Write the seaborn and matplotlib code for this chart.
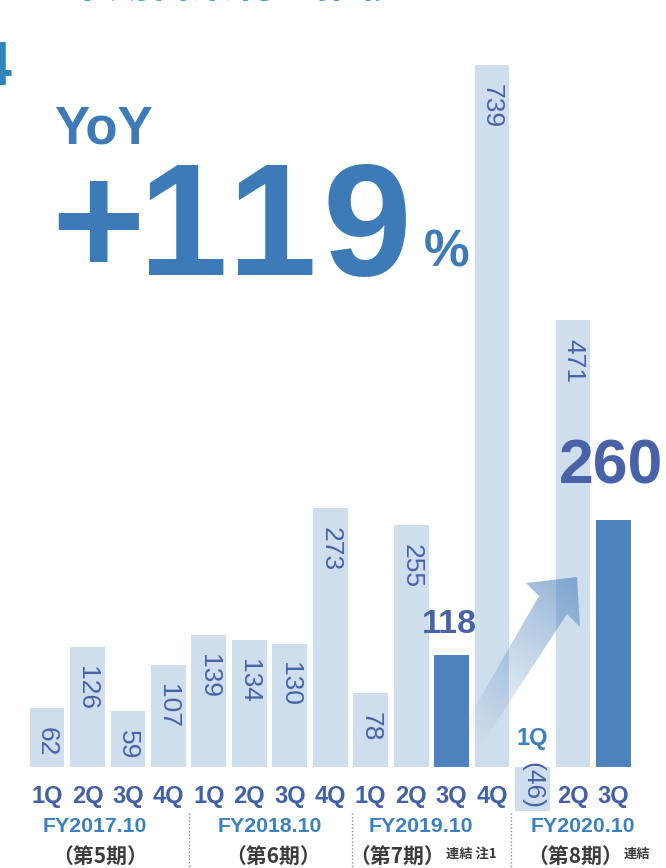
import numpy as np
import pandas as pd
import matplotlib
matplotlib.use("Agg")
import matplotlib.pyplot as plt
import seaborn as sns
from matplotlib.patches import Polygon
from matplotlib.transforms import blended_transform_factory

# ---------------- data ----------------
quarters = ["1Q", "2Q", "3Q", "4Q", "1Q", "2Q", "3Q", "4Q",
            "1Q", "2Q", "3Q", "4Q", "1Q", "2Q", "3Q"]
values = [62, 126, 59, 107, 139, 134, 130, 273, 78, 255, 118, 739, -46, 471, 260]
highlight = [False] * 10 + [True] + [False] * 3 + [True]
fiscal_years = ["FY2017.10", "FY2018.10", "FY2019.10", "FY2020.10"]
periods = ["（第5期）", "（第6期）", "（第7期）", "（第8期）"]
notes = ["", "", "連結 注1", "連結"]
yoy_label = "YoY"
yoy_value = "+119"
yoy_unit = "%"

# ---------------- style ----------------
W, H = 666, 868
LIGHT = "#cfdeec"
DARK = "#4d83bd"
NUM_C = "#4862aa"
TICK_C = "#4060a8"
FY_C = "#3a80c2"
BIG_C = "#3d7ab8"
LATIN = ["Liberation Sans", "DejaVu Sans"]
CJK = ["Noto Sans CJK JP", "DejaVu Sans"]

sns.set_theme(style="white")
plt.rcParams["font.family"] = LATIN

df = pd.DataFrame({
    "idx": list(range(len(values))),
    "value": values,
    "kind": ["hi" if h else "lo" for h in highlight],
})

fig = plt.figure(figsize=(W / 100, H / 100), dpi=100)
ax = fig.add_axes([0, 0, 1, 1])
sns.barplot(data=df, x="idx", y="value", hue="kind", hue_order=["lo", "hi"],
            palette={"lo": LIGHT, "hi": DARK}, dodge=False, width=0.86,
            saturation=1, linewidth=0, legend=False, ax=ax, zorder=2)

# map axes to pixel layout: bar pitch 40.46 px, first bar centre at 47 px,
# baseline at 767 px from top, 0.95 px per unit
pitch, x0, base_py, ppu = 40.46, 47.0, 767.0, 0.95
xmin = -x0 / pitch
xmax = xmin + W / pitch
ymin = -(H - base_py) / ppu
ymax = base_py / ppu
ax.set_xlim(xmin, xmax)
ax.set_ylim(ymin, ymax)
ax.axis("off")


def fy(py):
    return 1 - py / H


def fx(px):
    return px / W


def dx(px):
    return xmin + px / W * (xmax - xmin)


def dy(py):
    return ymax - py / H * (ymax - ymin)


xt = blended_transform_factory(ax.transData, fig.transFigure)

# ---------------- value labels ----------------
for i, (v, h) in enumerate(zip(values, highlight)):
    if h:
        ax.annotate(str(v), (i, v), xytext=(-2, 22 if v < 200 else 37),
                    textcoords="offset pixels", ha="center", va="baseline",
                    fontsize=24.5 if v < 200 else 45, fontweight="bold",
                    color=NUM_C, zorder=6)
    elif v >= 0:
        ax.annotate(str(v), (i, v), xytext=(0, -19), textcoords="offset pixels",
                    ha="center", va="top", rotation=-90, fontsize=19,
                    color=NUM_C, zorder=6)
    else:
        ax.annotate(f"({abs(v)})", (i, 0), xytext=(0, 5), textcoords="offset pixels",
                    ha="center", va="top", rotation=-90, fontsize=19,
                    color=NUM_C, zorder=6)

# ---------------- category labels ----------------
for i, (q, v) in enumerate(zip(quarters, values)):
    if v < 0:
        ax.text(i, dy(738), q, ha="center", va="center", fontsize=17,
                fontweight="bold", color=FY_C, zorder=6)
    else:
        ax.text(i, fy(797), q, transform=xt, ha="center", va="center",
                fontsize=17, fontweight="bold", color=TICK_C, zorder=6)

fy_px = [95, 270, 421, 583]
per_px = [100, 273, 397, 575]
note_px = [0, 0, 471, 637]
for k in range(4):
    fig.text(fx(fy_px[k]), fy(827), fiscal_years[k], ha="center", va="center",
             fontsize=15.3, fontweight="bold", color=FY_C)
    fig.text(fx(per_px[k]), fy(857), periods[k], ha="center", va="center",
             fontsize=15, fontweight="bold", color="#3c3c3c", family=CJK)
    if notes[k]:
        fig.text(fx(note_px[k]), fy(854), notes[k], ha="center", va="center",
                 fontsize=9.5, fontweight="bold", color="#3c3c3c", family=CJK)

for sx in [3.5, 7.55, 11.47]:
    ax.plot([sx, sx], [dy(813), dy(868)], color="#8a8a8a", lw=1,
            ls=(0, (1, 1.5)), zorder=3)

# ---------------- headline ----------------
fig.text(fx(54), fy(143), yoy_label, ha="left", va="baseline", fontsize=38,
         fontweight="bold", color=BIG_C)
# headline number, glyph by glyph (the original uses wide letter spacing)
for ch, cx in zip(yoy_value, [98, 183, 272, 367]):
    fig.text(fx(cx), fy(275), ch, ha="center", va="baseline", fontsize=115,
             fontweight="bold", color=BIG_C)
fig.text(fx(424), fy(267), yoy_unit, ha="left", va="baseline", fontsize=37,
         fontweight="bold", color=BIG_C)

# cut-off title remnants at the top
fig.text(fx(-23), fy(85), "4", ha="left", va="baseline", fontsize=45,
         fontweight="bold", color="#2e86b8")
fig.text(fx(26), fy(7), "四半期営業利益推移", ha="left", va="bottom",
         fontsize=30, fontweight="bold", color="#3fa8c4", family=CJK)

# ---------------- gradient arrow ----------------
pts_px = [(460, 733), (539, 596), (526, 583), (577, 577), (580, 627),
          (567, 614), (480, 747)]
poly = Polygon([(dx(px), dy(py)) for px, py in pts_px], closed=True,
               facecolor="none", edgecolor="none", transform=ax.transData)
ax.add_patch(poly)
gx = np.linspace(455, 585, 260)
gy = np.linspace(570, 752, 364)
GX, GY = np.meshgrid(gx, gy)
d = np.array([0.549, -0.836])
t = ((GX - 470) * d[0] + (GY - 740) * d[1]) / 190.0
alpha = np.clip(t, 0, 1) * 0.6
rgb = matplotlib.colors.to_rgb(DARK)
img = np.zeros(GX.shape + (4,))
img[..., 0], img[..., 1], img[..., 2] = rgb
img[..., 3] = alpha
im = ax.imshow(img, extent=(dx(455), dx(585), dy(752), dy(570)), origin="upper",
               aspect="auto", zorder=4, interpolation="bilinear")
im.set_clip_path(poly)
ax.set_xlim(xmin, xmax)
ax.set_ylim(ymin, ymax)

fig.savefig("out.png", dpi=100)
